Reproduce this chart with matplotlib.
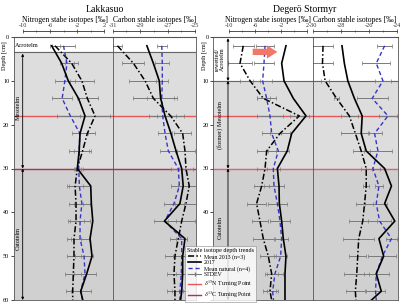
import matplotlib
matplotlib.use('Agg')
import matplotlib.pyplot as plt
from matplotlib.lines import Line2D

plt.rcParams['font.family'] = 'serif'
plt.rcParams['font.serif'] = ['Liberation Serif', 'DejaVu Serif']
plt.rcParams['mathtext.fontset'] = 'stix'

# ------------------------------------------------------------------
# Data
# ------------------------------------------------------------------
depth = [2, 6, 10, 14, 18, 22, 26, 30, 34, 38, 42, 46, 50, 54, 58, 60]

# Lakkasuo, nitrogen
lak_n_2013 = [-5.25, -2.8, -1.3, -0.5, 0.63, -0.5, -1.2, -1.97, -2.3, -2.16, -2.16, -2.46, -2.46, -2.56, -2.65, -2.65]
lak_n_2017 = [-5.74, -4.27, -3.3, -1.8, -0.84, -1.57, -1.7, -1.97, 0.0, 0.09, 0.3, -0.1, 0.19, -0.59, -1.47, -1.18]
lak_n_nat = [-4.0, -3.5, -3.8, -4.2, -3.0, -1.6, -1.7, -1.76, -1.67, -1.3, -1.57, -1.57, -0.98, -0.84, -1.47, -1.18]
lak_n_sd13 = [0.8, 1.0, 1.8, 1.5, 2.2, 1.2, 1.2, 0.5, 1.2, 1.0, 1.2, 1.0, 1.0, 1.2, 1.0]
lak_n_sdnat = [1.7, 1.0, 1.5, 1.5, 2.0, 1.2, 1.5, 0.6, 1.5, 1.2, 1.5, 1.3, 1.3, 1.6, 1.5]

# Lakkasuo, carbon
lak_c_2013 = [-30.64, -29.48, -28.63, -28.03, -26.77, -25.9, -25.73, -25.66, -25.42, -25.66, -25.97, -26.22, -26.46, -26.53, -26.46, -26.46]
lak_c_2017 = [-28.5, -28.03, -27.6, -27.5, -27.18, -26.75, -26.38, -25.97, -25.86, -26.1, -27.23, -25.73, -25.9, -25.9, -25.97, -26.05]
lak_c_nat = [-27.42, -27.38, -27.38, -27.42, -27.35, -27.18, -26.94, -26.22, -26.14, -26.53, -27.2, -25.97, -25.97, -26.0, -26.1, -26.1]
lak_c_sd13 = [0.35, 0.8, 1.2, 1.5, 1.0, 0.6, 0.7, 0.5, 0.8, 0.8, 1.0, 0.6, 0.7, 0.5, 0.6]
lak_c_sdnat = [0.35, 0.5, 0.45, 1.1, 1.0, 0.5, 0.6, 0.5, 0.6, 0.7, 0.8, 0.4, 0.6, 0.4, 0.6]

# Degero Stormyr, nitrogen
deg_n_2013 = [-7.85, -8.35, -6.8, -4.77, 0.77, -2.2, -4.25, -4.5, -5.02, -5.8, -5.28, -4.77, -4.0, -3.48, -3.74, -3.48]
deg_n_2017 = [-1.28, -1.94, -1.58, -0.15, 1.8, -0.4, -1.08, -2.6, -2.35, -2.3, -1.94, -1.69, -1.28, -1.43, -1.43, -1.43]
deg_n_nat = [-4.5, -4.66, -4.87, -4.25, -3.74, -3.48, -2.46, -3.23, -3.12, -2.6, -2.2, -1.94, -2.1, -2.97, -3.33, -3.2]
deg_n_sd13 = [1.6, 1.8, 1.5, 1.0, 1.5, 1.5, 1.5, 1.2, 1.2, 1.5, 1.2, 1.6, 1.2, 1.0, 1.0]
deg_n_sdnat = [1.4, 1.5, 1.5, 1.5, 2.0, 1.5, 1.6, 1.0, 1.5, 1.5, 1.5, 1.0, 1.0, 1.2, 0.8]

# Degero Stormyr, carbon
deg_c_2013 = [-29.28, -29.32, -29.13, -28.31, -27.39, -26.96, -26.54, -26.18, -26.18, -26.3, -26.43, -26.72, -26.79, -26.86, -26.96, -26.92]
deg_c_2017 = [-27.92, -27.75, -27.5, -27.03, -26.47, -26.54, -26.18, -24.86, -24.37, -24.86, -24.13, -25.27, -24.93, -25.46, -25.1, -25.8]
deg_c_nat = [-24.86, -25.46, -24.98, -25.75, -24.62, -25.58, -25.34, -25.7, -25.27, -25.46, -25.22, -24.37, -25.02, -25.46, -25.51, -25.46]
deg_c_sd13 = [0.7, 0.75, 0.3, 0.2, 0.6, 1.0, 0.6, 0.4, 0.2, 0.6, 1.0, 1.1, 0.6, 0.9, 0.7]
deg_c_sdnat = [0.55, 1.0, 0.55, 1.1, 0.65, 0.5, 1.0, 0.5, 0.3, 0.8, 0.8, 0.4, 1.0, 0.9, 0.7]

# depth tick labels (Degero 50/60 sit under the legend)
lak_depth_labels = ['0', '10', '20', '30', '40', '50', '60']
deg_depth_labels = ['0', '10', '20', '30', '40', '', '']

# ------------------------------------------------------------------
# Styles
# ------------------------------------------------------------------
W, H = 400, 303
BOX_TOP, BOX_BOT = 37, 300
DASHDOT = (0, (4, 1.5, 1, 1.5))
BLUE = '#3535c8'
GREY_ERR = '#7a7a7a'
N_TURN = '#e8585a'
C_TURN = '#b0304e'
LIGHT = '#dddddd'
DARK = '#d0d0d0'
EDGE = '#555555'
FS_TICK = 4.5


def make_ax(fig, x0, x1):
    ax = fig.add_axes([x0 / W, 1 - BOX_BOT / H, (x1 - x0) / W, (BOX_BOT - BOX_TOP) / H])
    ax.set_ylim(60, 0)
    for s in ax.spines.values():
        s.set_color(EDGE)
        s.set_linewidth(0.6)
    return ax


def draw_panel(ax, xlim, ticks, minor, t2013, t2017, tnat, sd13, sdnat, acro, c30, ylabels):
    ax.set_xlim(*xlim)
    # background zones
    ax.axhspan(0, acro, color='white', zorder=0)
    ax.axhspan(acro, 30, color=LIGHT, zorder=0)
    ax.axhspan(30, 60, color=DARK, zorder=0)
    ax.axhline(acro, color='#666666', lw=0.8, zorder=1)
    ax.axhline(18, color=N_TURN, lw=1.0, zorder=1)
    ax.axhline(30, color=c30, lw=1.0, zorder=1)
    ax.axhline(0, color=EDGE, lw=0.8, zorder=5, clip_on=False)

    n = len(sd13)
    ax.errorbar(t2013[:n], depth[:n], xerr=sd13, fmt='none', ecolor=GREY_ERR,
                elinewidth=0.7, capsize=1.2, capthick=0.5, zorder=2)
    ax.errorbar(tnat[:n], depth[:n], xerr=sdnat, fmt='none', ecolor=GREY_ERR,
                elinewidth=0.7, capsize=1.2, capthick=0.5, zorder=2)
    ax.plot(t2013, depth, color='black', lw=1.1, linestyle=DASHDOT, zorder=3)
    ax.plot(tnat, depth, color=BLUE, lw=1.0, linestyle=(0, (3, 2)), zorder=3)
    ax.plot(t2017, depth, color='black', lw=1.2, zorder=4)

    # top scale
    ax.xaxis.tick_top()
    ax.spines['top'].set_position(('outward', 4))
    ax.spines['top'].set_bounds(ticks[0], ticks[-1])
    ax.spines['top'].set_color('#333333')
    ax.set_xticks(ticks)
    ax.set_xticks(minor, minor=True)
    ax.set_xticklabels([str(t) for t in ticks])
    ax.tick_params(axis='x', which='major', direction='inout', length=3, width=0.5,
                   labelsize=FS_TICK, pad=1, colors='#333333')
    ax.tick_params(axis='x', which='minor', direction='inout', length=1.5, width=0.4,
                   colors='#333333')
    ax.tick_params(axis='x', which='both', bottom=False)

    if ylabels is not None:
        ax.set_yticks(range(0, 61, 10))
        ax.set_yticklabels(ylabels)
        ax.tick_params(axis='y', direction='out', length=2, width=0.5,
                       labelsize=FS_TICK, pad=1)
    else:
        ax.set_yticks([])


def zone_arrow(ax, x, y0, y1):
    ax.annotate('', xy=(x, y1), xytext=(x, y0),
                arrowprops=dict(arrowstyle='<|-|>', lw=0.6, color='black',
                                mutation_scale=3.5, shrinkA=0, shrinkB=0), zorder=5)


fig = plt.figure(figsize=(W / 100, H / 100), dpi=100)

# ------------------------------------------------------------------
# Lakkasuo
# ------------------------------------------------------------------
ax1 = make_ax(fig, 13.5, 112.5)
draw_panel(ax1, (-11.35, 3.2), [-10, -6, -2, 2], [-8, -4, 0],
           lak_n_2013, lak_n_2017, lak_n_nat, lak_n_sd13, lak_n_sdnat,
           3.5, C_TURN, lak_depth_labels)
ax2 = make_ax(fig, 112.5, 196)
draw_panel(ax2, (-31.0, -24.93), [-31, -29, -27, -25], [-30, -28, -26],
           lak_c_2013, lak_c_2017, lak_c_nat, lak_c_sd13, lak_c_sdnat,
           3.5, C_TURN, None)
ax1.text(-11.1, 2.0, 'Acrotelm', fontsize=4.5, va='center', ha='left', zorder=6)
zone_arrow(ax1, -10, 3.8, 30)
zone_arrow(ax1, -10, 30, 60)
ax1.text(-10.6, 16, 'Mesotelm', fontsize=4.5, rotation=90, ha='center', va='center', zorder=6)
ax1.text(-10.6, 46, 'Catotelm', fontsize=4.5, rotation=90, ha='center', va='center', zorder=6)

# ------------------------------------------------------------------
# Degero Stormyr
# ------------------------------------------------------------------
ax3 = make_ax(fig, 213.3, 313)
draw_panel(ax3, (-12.46, 2.88), [-10, -6, -2, 2], [-8, -4, 0],
           deg_n_2013, deg_n_2017, deg_n_nat, deg_n_sd13, deg_n_sdnat,
           10, '#e0607a', deg_depth_labels)
ax4 = make_ax(fig, 313, 398)
draw_panel(ax4, (-30.0, -23.9), [-30, -28, -26, -24], [-29, -27, -25],
           deg_c_2013, deg_c_2017, deg_c_nat, deg_c_sd13, deg_c_sdnat,
           10, '#e0607a', None)
zone_arrow(ax3, -10.2, 0.3, 10)
zone_arrow(ax3, -10.2, 10, 30)
zone_arrow(ax3, -10.2, 30, 60)
ax3.text(-11.5, 5, 'rewetted/\nAcrotelm', fontsize=4.5, rotation=90, ha='center',
         va='center', linespacing=1.0, zorder=6)
ax3.text(-11.4, 20, '(former) Mesotelm', fontsize=4.5, rotation=90, ha='center', va='center', zorder=6)
ax3.text(-11.4, 43.5, 'Catotelm', fontsize=4.5, rotation=90, ha='center', va='center', zorder=6)
ax3.annotate('', xy=(-2.6, 3.4), xytext=(-6.4, 3.4),
             arrowprops=dict(arrowstyle='simple,head_width=0.95,head_length=0.75,tail_width=0.45',
                             color='#f07868', lw=0, shrinkA=0, shrinkB=0), zorder=6)

# ------------------------------------------------------------------
# Titles, depth labels
# ------------------------------------------------------------------
fig.text(105 / W, 1 - 9 / H, 'Lakkasuo', fontsize=7, ha='center', va='center')
fig.text(305 / W, 1 - 9 / H, 'Degerö Stormyr', fontsize=7, ha='center', va='center')
fig.text(65 / W, 1 - 20 / H, 'Nitrogen stabe isotopes [‰]', fontsize=5.5, ha='center', va='center')
fig.text(155 / W, 1 - 20 / H, 'Carbon stable isotopes [‰]', fontsize=5.5, ha='center', va='center')
fig.text(268 / W, 1 - 20 / H, 'Nitrogen stabe isotopes [‰]', fontsize=5.5, ha='center', va='center')
fig.text(355 / W, 1 - 20 / H, 'Carbon stable isotopes [‰]', fontsize=5.5, ha='center', va='center')
fig.text(4 / W, 1 - 56 / H, 'Depth [cm]', fontsize=4.5, rotation=90, ha='center', va='center')
fig.text(204 / W, 1 - 56 / H, 'Depth [cm]', fontsize=4.5, rotation=90, ha='center', va='center')

# ------------------------------------------------------------------
# Legend
# ------------------------------------------------------------------
handles = [
    Line2D([], [], color='black', lw=1.1, linestyle=DASHDOT),
    Line2D([], [], color='black', lw=1.2),
    Line2D([], [], color=BLUE, lw=1.0, linestyle=(0, (3, 2))),
    Line2D([], [], color=GREY_ERR, lw=0.8, marker='|', markersize=2.5),
    Line2D([], [], color=N_TURN, lw=1.0),
    Line2D([], [], color=C_TURN, lw=1.0),
]
labels = ['Mean 2013 (n=3)', '2017', 'Mean natural (n=4)', 'STDEV',
          r'$\delta^{15}$N Turning Point', r'$\delta^{13}$C Turning Point']
leg = fig.legend(handles, labels, title='Stable isotope depth trends',
                 loc='lower left', bbox_to_anchor=(185 / W, 1 / H),
                 fontsize=4.2, title_fontsize=4.4, frameon=True, fancybox=False,
                 handlelength=2.2, handletextpad=0.5, labelspacing=0.1,
                 borderpad=0.3, borderaxespad=0)
leg.get_frame().set_edgecolor('#888888')
leg.get_frame().set_linewidth(0.5)
leg.set_zorder(10)

fig.savefig('out.png', dpi=100)
